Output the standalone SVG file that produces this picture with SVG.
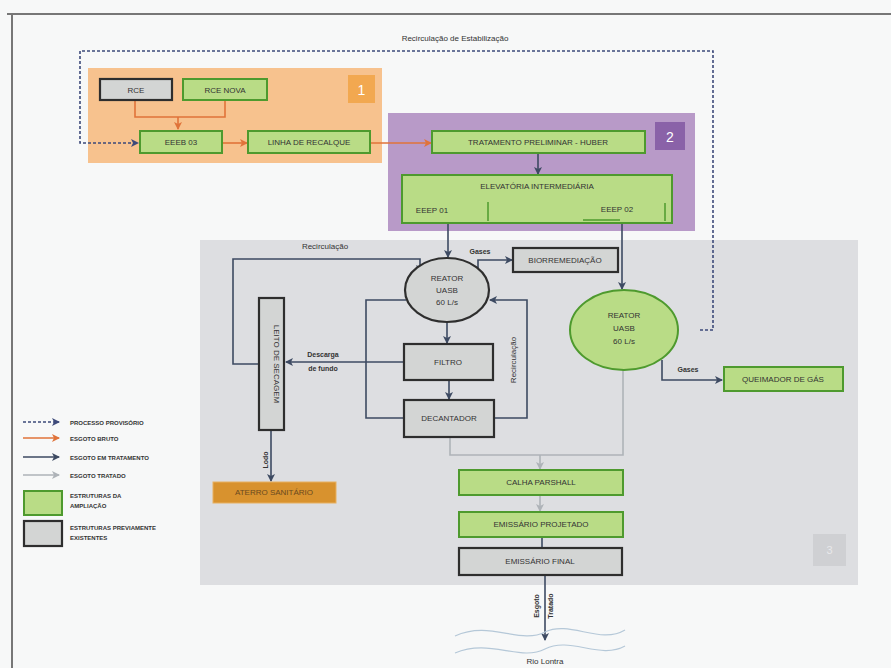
<svg xmlns="http://www.w3.org/2000/svg" width="891" height="668" viewBox="0 0 891 668">
<defs>
<style>
text{font-family:"Liberation Sans",Arial,sans-serif;fill:#333;font-size:8px}
.c{text-anchor:middle}
.g{fill:#b9dc86;stroke:#4e9a2e;stroke-width:2}
.x{fill:#d3d5d4;stroke:#2e2e2e;stroke-width:2.2}
.d{fill:none;stroke:#3d4a62;stroke-width:1.6}
.o{fill:none;stroke:#e0733a;stroke-width:1.6}
.t{fill:none;stroke:#aeb3b8;stroke-width:1.6}
.p{fill:none;stroke:#3d4a7a;stroke-width:1.6;stroke-dasharray:3 2}
.b{font-weight:bold;font-size:7px}
.l{font-weight:bold;font-size:6px}
</style>
<marker id="md" markerWidth="8" markerHeight="8" refX="7" refY="4" orient="auto" markerUnits="userSpaceOnUse"><path d="M0,0 L8,4 L0,8 L2,4z" fill="#3d4a62"/></marker>
<marker id="mo" markerWidth="8" markerHeight="8" refX="7" refY="4" orient="auto" markerUnits="userSpaceOnUse"><path d="M0,0 L8,4 L0,8 L2,4z" fill="#e0733a"/></marker>
<marker id="mt" markerWidth="8" markerHeight="8" refX="7" refY="4" orient="auto" markerUnits="userSpaceOnUse"><path d="M0,0 L8,4 L0,8 L2,4z" fill="#aeb3b8"/></marker>
<marker id="mp" markerWidth="8" markerHeight="8" refX="7" refY="4" orient="auto" markerUnits="userSpaceOnUse"><path d="M0,0 L8,4 L0,8 L2,4z" fill="#3d4a7a"/></marker>
</defs>
<rect width="891" height="668" fill="#f7f8f8"/>
<path d="M7,14 H891 M12,14 V668" stroke="#777" stroke-width="2" fill="none"/>

<g id="regions">
<rect x="88" y="68" width="294" height="95" fill="#f7c28e"/>
<rect x="348" y="75" width="27" height="28" fill="#f2a850"/>
<text x="361.5" y="95" class="c" style="fill:#fff;font-size:14px">1</text>
<rect x="388" y="113" width="307" height="118" fill="#b89ac8"/>
<rect x="655" y="122" width="30" height="28" fill="#8a62a8"/>
<text x="670" y="142" class="c" style="fill:#fff;font-size:14px">2</text>
<rect x="200" y="240" width="658" height="345" fill="#dddee1"/>
<rect x="813" y="534" width="33" height="32" fill="#cfd0d3"/>
<text x="829.5" y="554" class="c" style="fill:#e8e8ea;font-size:11px">3</text>
</g>

<g id="connectors">
<path class="p" d="M700,330 H713 V51 H80 V143 H138" marker-end="url(#mp)"/>
<path class="o" d="M135,100 V117 H225 V100 M178,117 V129" marker-end="url(#mo)"/>
<path class="o" d="M222,143 H247" marker-end="url(#mo)"/>
<path class="o" d="M370,143 H431" marker-end="url(#mo)"/>
<path class="d" d="M538,153 V174" marker-end="url(#md)"/>
<path class="d" d="M448,223 V257" marker-end="url(#md)"/>
<path class="d" d="M622,223 V289" marker-end="url(#md)"/>
<path class="d" d="M478,270 V260 H512" marker-end="url(#md)"/>
<path class="d" d="M259,364 H233 V259 H420 V272" marker-end="url(#md)"/>
<path class="d" d="M404,362 H286" marker-end="url(#md)"/>
<path class="d" d="M406,300 H366 V418 H404"/>
<path class="d" d="M447,322 V343" marker-end="url(#md)"/>
<path class="d" d="M449,380 V399" marker-end="url(#md)"/>
<path class="d" d="M494,418 H527 V300 H490" marker-end="url(#md)"/>
<path class="d" d="M662,360 V380 H722" marker-end="url(#md)"/>
<path class="d" d="M271,430 V481" marker-end="url(#md)"/>
<path class="t" d="M450,437 V455 H623 V368 M540,455 V469" marker-end="url(#mt)"/>
<path class="t" d="M540,495 V511" marker-end="url(#mt)"/>
<path class="d" d="M542,537 V548"/>
<path class="d" d="M545,575 V640" marker-end="url(#md)"/>
<path d="M455,636 C490,620 520,645 545,632 C570,620 600,645 625,630 M455,653 C490,638 520,662 545,649 C570,636 600,660 625,646" fill="none" stroke="#b5c8d8" stroke-width="1.2"/>
</g>

<g id="labels">
<text x="455" y="41" class="c">Recirculação de Estabilização</text>
<text x="325" y="249" class="c">Recirculação</text>
<text x="480" y="254" class="c b">Gases</text>
<text x="323" y="357" class="c b">Descarga</text>
<text x="323" y="371" class="c b">de fundo</text>
<text transform="translate(516,360) rotate(-90)" class="c">Recirculação</text>
<text x="688" y="372" class="c b">Gases</text>
<text transform="translate(268,460) rotate(-90)" class="c b">Lodo</text>
<text transform="translate(539,606) rotate(-90)" class="c b">Esgoto</text>
<text transform="translate(553,606) rotate(-90)" class="c b">Tratado</text>
<text x="545" y="664" class="c">Rio Lontra</text>
</g>

<g id="rce"><rect class="x" x="100" y="79" width="72" height="21"/><text x="136" y="93" class="c">RCE</text></g>
<g id="rce-nova"><rect class="g" x="183" y="79" width="84" height="21"/><text x="225" y="93" class="c">RCE NOVA</text></g>
<g id="eeeb03"><rect class="g" x="140" y="131" width="82" height="22"/><text x="181" y="145" class="c">EEEB 03</text></g>
<g id="linha"><rect class="g" x="248" y="131" width="122" height="22"/><text x="309" y="145" class="c">LINHA DE RECALQUE</text></g>
<g id="tratamento"><rect class="g" x="432" y="131" width="213" height="22"/><text x="538" y="145" class="c">TRATAMENTO  PRELIMINAR - HUBER</text></g>
<g id="elevatoria">
<rect class="g" x="402" y="175" width="270" height="48"/>
<text x="537" y="189" class="c">ELEVATÓRIA INTERMEDIÁRIA</text>
<path d="M488,202 V221 M583,220 H620 M665,203 V221" stroke="#4e9a2e" stroke-width="1.5" fill="none"/>
<text x="432" y="213" class="c">EEEP 01</text>
<text x="617" y="212" class="c">EEEP 02</text>
</g>
<g id="reator1"><ellipse class="x" cx="447" cy="290" rx="42" ry="32"/><text x="447" y="281" class="c">REATOR</text><text x="447" y="293" class="c">UASB</text><text x="447" y="305" class="c">60 L/s</text></g>
<g id="biorremediacao"><rect class="x" x="513" y="248" width="105" height="24"/><text x="565" y="263" class="c">BIORREMEDIAÇÃO</text></g>
<g id="reator2"><ellipse class="g" cx="624" cy="330" rx="54" ry="40"/><text x="624" y="318" class="c">REATOR</text><text x="624" y="331" class="c">UASB</text><text x="624" y="344" class="c">60 L/s</text></g>
<g id="queimador"><rect class="g" x="724" y="367" width="119" height="24"/><text x="783" y="382" class="c">QUEIMADOR DE GÁS</text></g>
<g id="leito"><rect class="x" x="259" y="298" width="25" height="132"/><text transform="translate(274,364) rotate(90)" class="c">LEITO DE SECAGEM</text></g>
<g id="filtro"><rect class="x" x="404" y="344" width="89" height="36"/><text x="448" y="365" class="c">FILTRO</text></g>
<g id="decantador"><rect class="x" x="404" y="400" width="90" height="37"/><text x="449" y="421" class="c">DECANTADOR</text></g>
<g id="aterro"><rect x="213" y="482" width="123" height="21" fill="#d8922e" stroke="#e8b060" stroke-width="1"/><text x="274" y="495" class="c" style="fill:#6a4a20">ATERRO SANITÁRIO</text></g>
<g id="calha"><rect class="g" x="459" y="470" width="164" height="25"/><text x="541" y="485" class="c">CALHA  PARSHALL</text></g>
<g id="projetado"><rect class="g" x="459" y="512" width="164" height="25"/><text x="541" y="527" class="c">EMISSÁRIO PROJETADO</text></g>
<g id="final"><rect class="x" x="459" y="548" width="163" height="27"/><text x="540" y="564" class="c">EMISSÁRIO FINAL</text></g>

<g id="legend">
<path class="p" d="M23,422 H59" marker-end="url(#mp)"/>
<path class="o" d="M23,438 H59" marker-end="url(#mo)"/>
<path class="d" d="M23,457 H59" marker-end="url(#md)"/>
<path class="t" d="M23,475 H59" marker-end="url(#mt)"/>
<text x="70" y="425" class="l">PROCESSO PROVISÓRIO</text>
<text x="70" y="441" class="l">ESGOTO BRUTO</text>
<text x="70" y="460" class="l">ESGOTO EM TRATAMENTO</text>
<text x="70" y="478" class="l">ESGOTO TRATADO</text>
<rect class="g" x="24" y="491" width="38" height="24"/>
<rect class="x" x="24" y="521" width="38" height="25"/>
<text x="70" y="498" class="l">ESTRUTURAS DA</text>
<text x="70" y="508" class="l">AMPLIAÇÃO</text>
<text x="70" y="530" class="l">ESTRUTURAS PREVIAMENTE</text>
<text x="70" y="540" class="l">EXISTENTES</text>
</g>
</svg>
